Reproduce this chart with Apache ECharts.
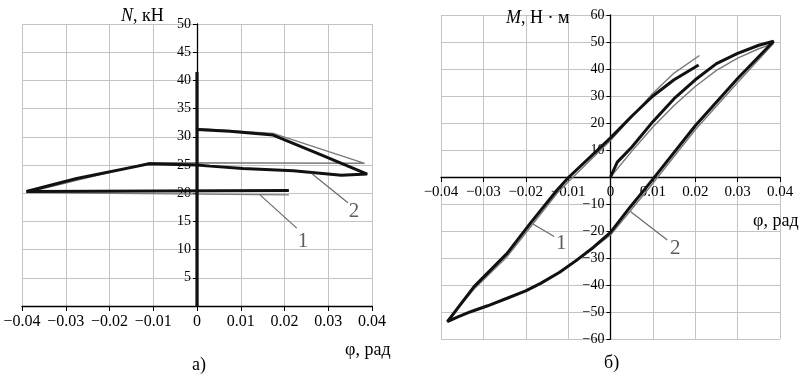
<!DOCTYPE html>
<html>
<head>
<meta charset="utf-8">
<script src="https://cdn.jsdelivr.net/npm/echarts@6/dist/echarts.min.js"></script>
<style>
  html, body { margin: 0; padding: 0; background: #fff; }
  #box { width: 809px; height: 381px; }
</style>
</head>
<body>
<div id="box"></div>
<script>
// а) N(φ) ------------------------------------------------------------------
var nRiseBlack = [[0, 0], [0, 41.5]];
var nLoopBlack = [
    [0, 31.3], [0.0075, 31.0], [0.0174, 30.3], [0.0281, 26.9], [0.0389, 23.4],
    [0.033, 23.2], [0.022, 24.0], [0.0105, 24.4], [0.003, 24.8], [0, 25.0],
    [-0.011, 25.2], [-0.0275, 22.6], [-0.039, 20.3], [0.021, 20.5]
];
var nLoopGray = [
    [0, 31.5], [0.0174, 30.6], [0.0383, 25.3], [-0.011, 25.4],
    [-0.039, 20.1], [0.021, 19.7]
];
// б) M(φ) ------------------------------------------------------------------
var mLoopBlack = [
    [0, 0], [0.0016, 5.5], [0.005, 11], [0.01, 20.5], [0.015, 29], [0.02, 36],
    [0.025, 42], [0.03, 45.8], [0.035, 48.8], [0.0385, 50.3],
    [0.03, 36.5], [0.02, 19], [0.0094, -2], [0.0047, -11], [0, -20.5],
    [-0.004, -26], [-0.0079, -30.7], [-0.012, -35.3], [-0.0165, -39.4], [-0.02, -42.2],
    [-0.0244, -44.9], [-0.029, -47.7], [-0.033, -49.9], [-0.036, -51.8], [-0.0385, -53.6],
    [-0.0322, -40.6], [-0.0244, -28.3], [-0.0189, -17.1], [-0.0126, -4.8], [-0.0098, 0],
    [0, 14.5], [0.005, 22.5], [0.01, 30], [0.015, 36], [0.0208, 41.5]
];
var mLoopGray = [
    [0, 0], [0.005, 9.5], [0.01, 18.5], [0.015, 26.5], [0.02, 33.5], [0.025, 39.5],
    [0.03, 44], [0.035, 47.5], [0.0385, 49.5],
    [0.03, 35], [0.02, 17.5], [0.0094, -3.5], [0, -21.5],
    [-0.0079, -31], [-0.0165, -39.6], [-0.0244, -45], [-0.033, -50], [-0.0385, -53.3],
    [-0.0322, -41.5], [-0.0244, -29.5], [-0.0189, -18.5], [-0.0126, -6], [-0.0098, -1.5],
    [0, 13.5], [0.01, 31], [0.015, 38.5], [0.021, 45]
];
// выноски 1, 2 (в координатах графика)
var nCallouts = [
    { name: '1', from: [0.0144, 19.7], to: [0.0228, 13.8], text: [0.0242, 11.5] },
    { name: '2', from: [0.0262, 23.5], to: [0.0345, 18.3], text: [0.0359, 16.8] }
];
var mCallouts = [
    { name: '1', from: [-0.0182, -17.5], to: [-0.0133, -22], text: [-0.0116, -24.8] },
    { name: '2', from: [0.0047, -12.8], to: [0.0134, -23.3], text: [0.0153, -26.6] }
];

var FONT = 'Liberation Serif';

function xFmt(v) {
    if (Math.abs(v) < 1e-9) return '0';
    return v.toFixed(2).replace('-', '\u2212');
}
function yFmt(v) {
    if (v === 0) return '';
    return String(v).replace('-', '\u2212');
}

// оси проходят через ноль: сдвигаем их offset'ом (onZero в v6 не двигает подписи)
function makeX(idx, min, max, offset) {
    return {
        gridIndex: idx, type: 'value', min: min, max: max, interval: 0.01,
        position: 'bottom', offset: offset,
        axisLine: { onZero: false, lineStyle: { color: '#000', width: 1.3 } },
        axisTick: { length: 5, lineStyle: { color: '#000' } },
        axisLabel: { formatter: xFmt, color: '#000', fontFamily: FONT, fontSize: idx === 0 ? 16 : 15, margin: 8 },
        splitLine: { lineStyle: { color: '#c4c4c4', width: 1 } }
    };
}
function makeY(idx, min, max, step, offset) {
    return {
        gridIndex: idx, type: 'value', min: min, max: max, interval: step,
        position: 'left', offset: offset,
        axisLine: { onZero: false, lineStyle: { color: '#000', width: 1.3 } },
        axisTick: { length: 4, lineStyle: { color: '#000' } },
        axisLabel: { formatter: yFmt, color: '#000', fontFamily: FONT, fontSize: 14, margin: 6 },
        splitLine: { lineStyle: { color: '#c4c4c4', width: 1 } }
    };
}

function curve(idx, data, color, width, z) {
    return {
        type: 'line', xAxisIndex: idx, yAxisIndex: idx, data: data,
        showSymbol: false, silent: true, z: z,
        lineStyle: { color: color, width: width }
    };
}

var series = [
    curve(0, nLoopGray, '#7a7a7a', 1.4, 2),
    curve(0, nLoopBlack, '#111', 3, 3),
    curve(0, nRiseBlack, '#111', 3.2, 3),
    curve(1, mLoopGray, '#7a7a7a', 1.4, 2),
    curve(1, mLoopBlack, '#111', 3, 3)
];
[nCallouts, mCallouts].forEach(function (list, idx) {
    list.forEach(function (c) {
        series.push(curve(idx, [c.from, c.to], '#6a6a6a', 1.2, 4));
    });
    series.push({
        type: 'scatter', xAxisIndex: idx, yAxisIndex: idx, symbolSize: 0, silent: true, z: 5,
        data: list.map(function (c) { return { name: c.name, value: c.text }; }),
        label: {
            show: true, position: 'inside', formatter: '{b}',
            color: '#333', fontFamily: FONT, fontSize: 21
        }
    });
});

var txt = { fontFamily: FONT, fontSize: 18, color: '#000', fontWeight: 'normal',
    rich: { i: { fontFamily: FONT, fontSize: 18, fontStyle: 'italic', color: '#000' } } };

var myChart = echarts.init(document.getElementById('box'));
var option = {
    backgroundColor: '#fff',
    animation: false,
    title: [
        { text: '{i|N}, кН', left: 121, top: 7, padding: 0, textStyle: txt },
        { text: '{i|M}, Н · м', left: 506, top: 9, padding: 0, textStyle: txt },
        { text: 'φ, рад', left: 345, top: 341, padding: 0, textStyle: txt },
        { text: 'φ, рад', left: 753, top: 212, padding: 0, textStyle: txt },
        { text: 'а)', left: 192, top: 356, padding: 0, textStyle: txt },
        { text: 'б)', left: 604, top: 354, padding: 0, textStyle: txt }
    ],
    grid: [
        { left: 22, top: 24, width: 350, height: 282 },
        { left: 441, top: 15, width: 339, height: 324 }
    ],
    xAxis: [makeX(0, -0.04, 0.04, 0), makeX(1, -0.04, 0.04, -162)],
    yAxis: [makeY(0, 0, 50, 5, -175), makeY(1, -60, 60, 10, -169.5)],
    series: series
};

option && myChart.setOption(option);
</script>
</body>
</html>
